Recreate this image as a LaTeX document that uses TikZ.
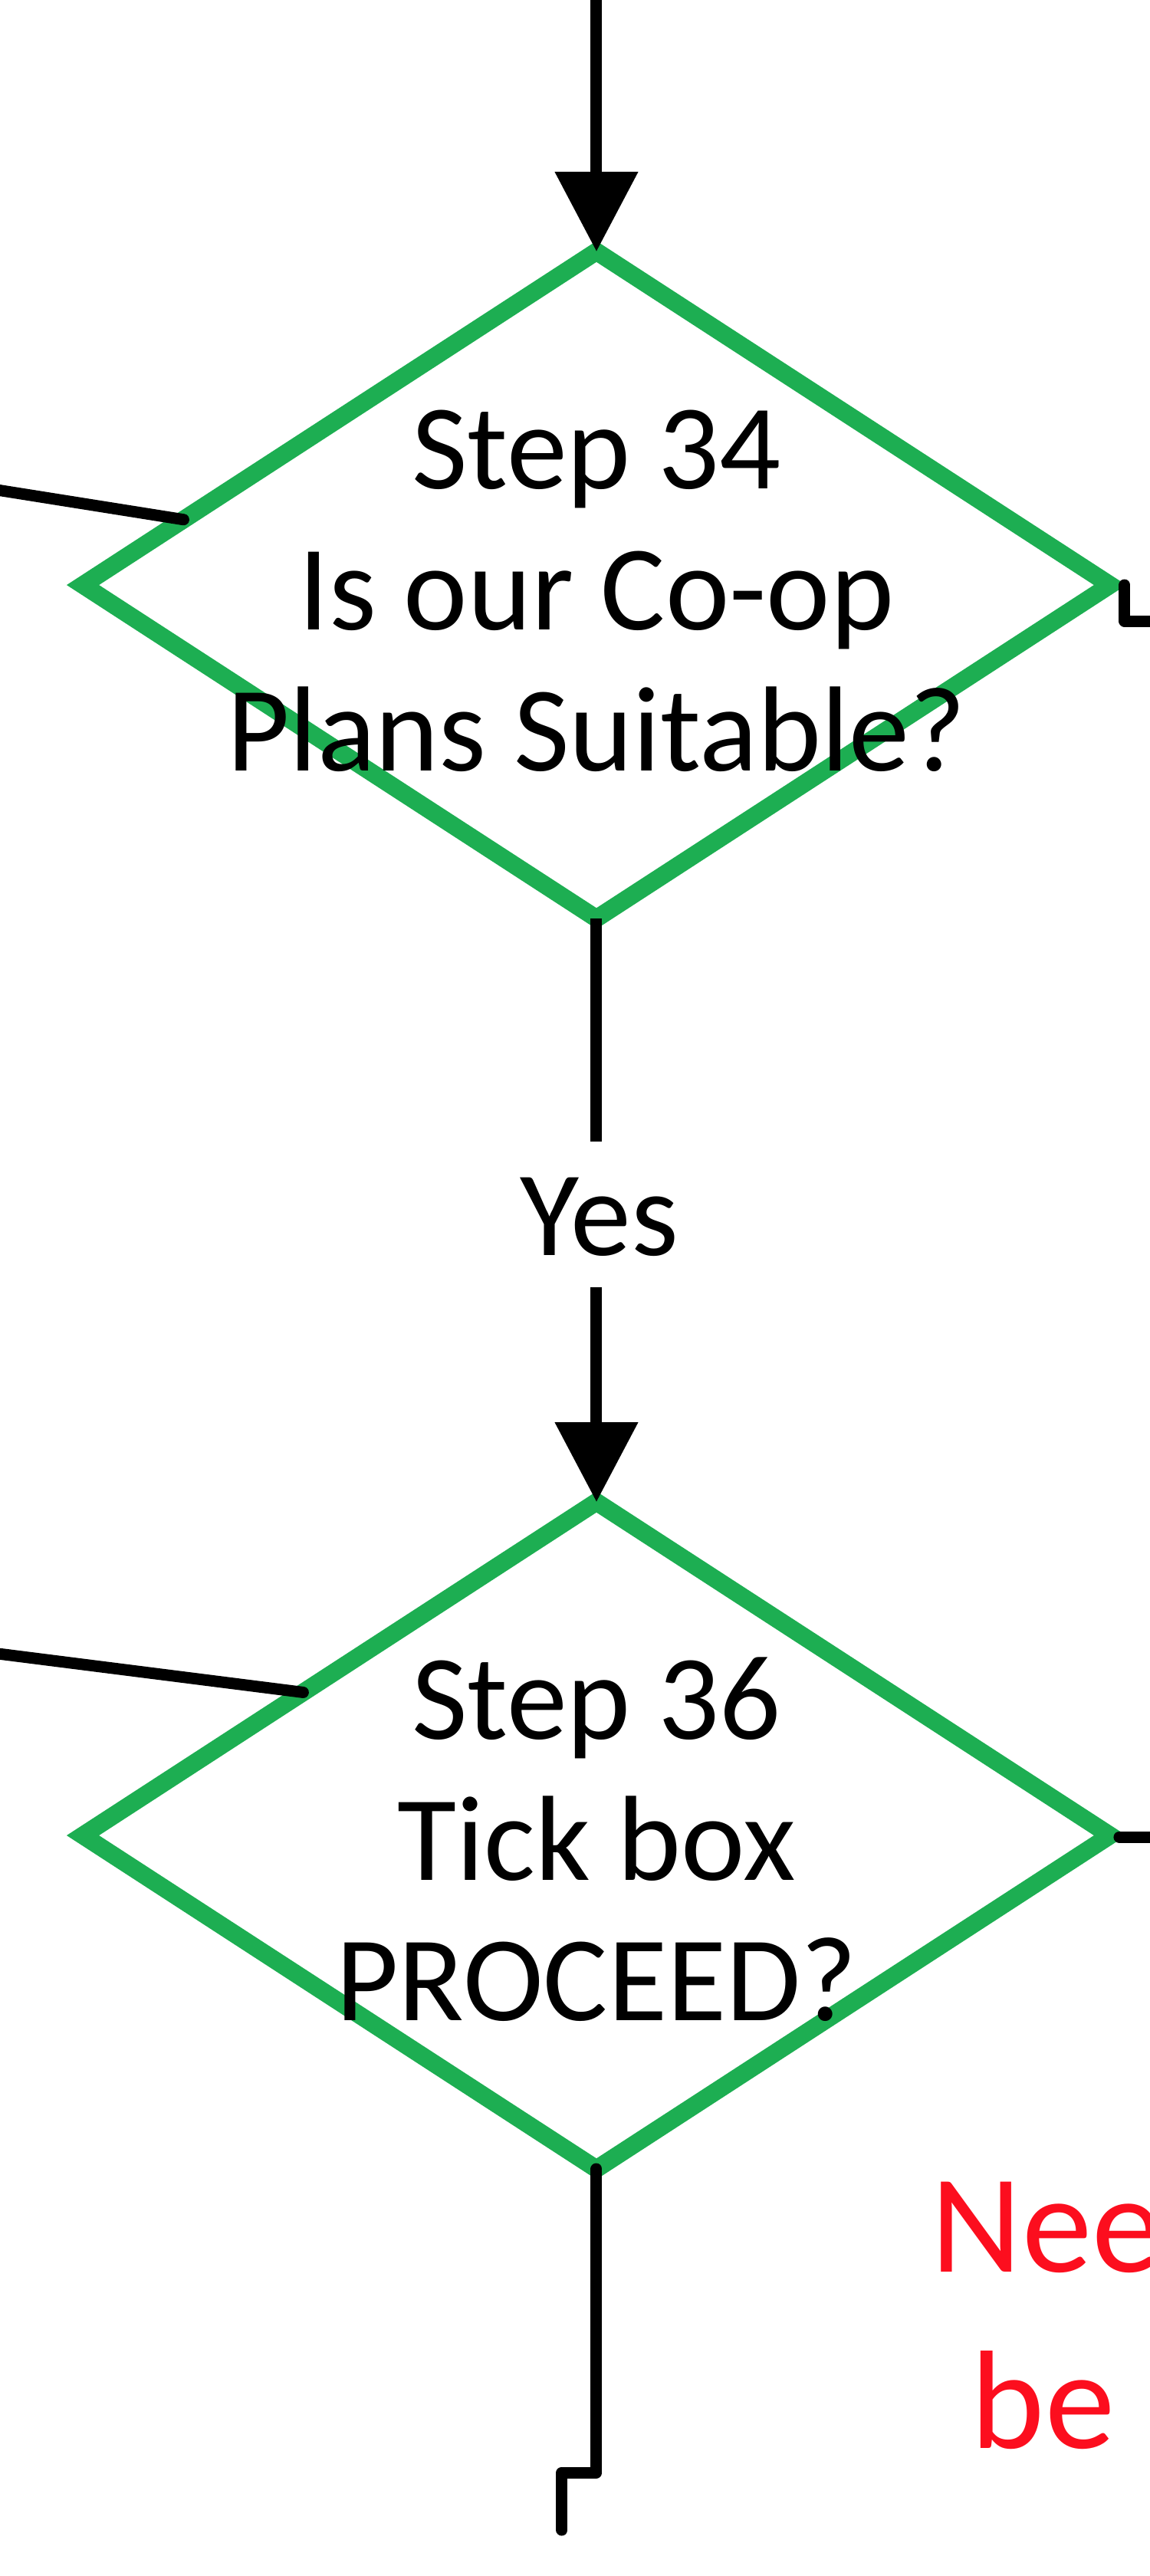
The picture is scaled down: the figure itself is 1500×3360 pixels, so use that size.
\documentclass[tikz,border=0pt]{standalone}
\usepackage{fontspec}
\setmainfont{Carlito}
\usetikzlibrary{shapes.geometric,arrows.meta,calc}
\definecolor{dgreen}{RGB}{29,174,82}
\definecolor{dred}{RGB}{252,14,30}
\begin{document}
\begin{tikzpicture}[x=0.1pt,y=-0.1pt,
  dia/.style={diamond, draw=dgreen, line width=2.3pt, minimum width=134pt, minimum height=87pt, inner sep=0pt, outer sep=0pt},
  dtext/.style={font=\fontsize{15.8pt}{18.4pt}\selectfont, inner sep=0pt, anchor=base},
  conn/.style={line width=1.5pt, line cap=round, line join=round},
  arr/.style={conn, -{Triangle[width=10.5pt,length=10.4pt]}},
  note/.style={text=dred, font=\fontsize{18.3pt}{23pt}\selectfont, inner sep=0pt, anchor=base west}]
\useasboundingbox (0,0) rectangle (1500,3360);
% decisions
\node[dia] (d1) at (778,763) {};
\node[dia] (d2) at (778,2394) {};
\node[dtext] (d1a) at ($(d1)+(0,-126)$) {Step 34};
\node[dtext] (d1b) at ($(d1)+(0,58)$) {Is our Co-op};
\node[dtext] (d1c) at ($(d1)+(0,242)$) {Plans Suitable?};
\node[dtext] (d2a) at ($(d2)+(0,-126)$) {Step 36};
\node[dtext] (d2b) at ($(d2)+(0,58)$) {Tick box};
\node[dtext] (d2c) at ($(d2)+(0,241)$) {PROCEED?};
% label
\node[dtext, text height=14.6pt, text depth=4pt] (yes) at (782,1637) {Yes};
% red note
\node[note] (n1) at (1213,2963) {Nee};
\node[note] (n2) at (1265,3193) {be};
% connectors
\coordinate (topin) at (778,-20);
\coordinate (l1) at (-10,638);
\coordinate (l2) at (-10,2156);
\coordinate (r1) at (1510,810);
\coordinate (r2) at (1510,2396);
\coordinate (b1) at (733,3225);
\coordinate (b2) at (733,3300);
\draw[arr] (topin) -- (d1.north);
\draw[conn, line cap=butt] (d1.south) -- (d1.south |- yes.north);
\draw[arr, line cap=butt] (d2.north |- yes.south) -- (d2.north);
\draw[conn] (l1) -- (d1.171.5);
\draw[conn] (l2) -- (d2.154.7);
\draw[conn] ($(d1.east)+(19,0)$) |- (r1);
\draw[conn] ($(d2.east)+(12,2)$) -- (r2);
\draw[conn] (d2.south) |- (b1) -- (b2);
\end{tikzpicture}
\end{document}
